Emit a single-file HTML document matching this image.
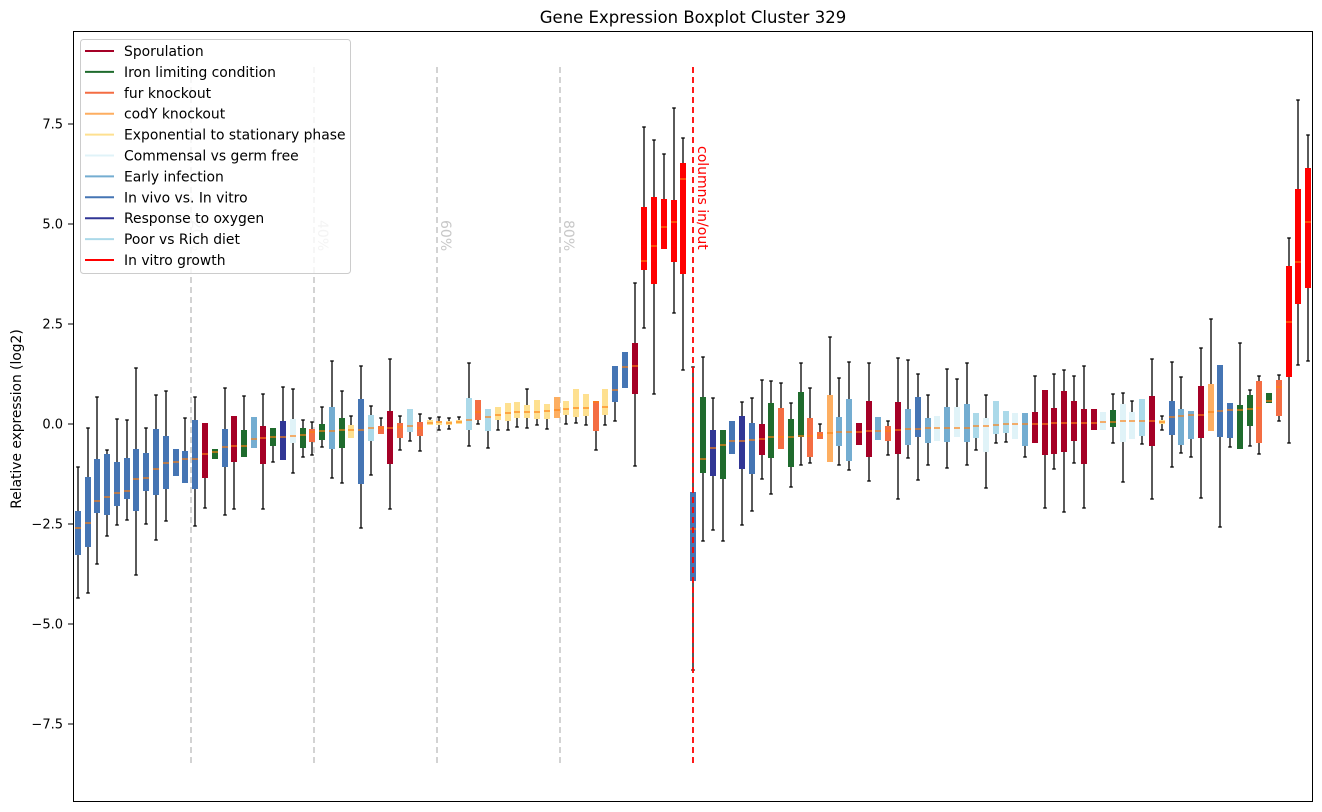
<!DOCTYPE html>
<html><head><meta charset="utf-8"><style>
html,body{margin:0;padding:0;background:#fff;}
svg{display:block;font-family:"DejaVu Sans","Liberation Sans",sans-serif;}
</style></head><body>
<svg id="s" width="1322" height="812" viewBox="0 0 1322 812" xmlns="http://www.w3.org/2000/svg">
<rect width="1322" height="812" fill="#fff"/>
<text x="693" y="23" font-size="16.5" text-anchor="middle">Gene Expression Boxplot Cluster 329</text>
<g id="grid" stroke="#c8c8c8" stroke-width="1.6" stroke-dasharray="6,4" fill="none">
<line x1="191" y1="67" x2="191" y2="767"/><line x1="314" y1="67" x2="314" y2="767"/>
<line x1="437" y1="67" x2="437" y2="767"/><line x1="560" y1="67" x2="560" y2="767"/>
</g>
<g fill="#c8c8c8" font-size="14">
<text transform="translate(192,220) rotate(90)">20%</text>
<text transform="translate(318,220) rotate(90)">40%</text>
<text transform="translate(441,220) rotate(90)">60%</text>
<text transform="translate(564,220) rotate(90)">80%</text>
</g>
<g id="boxes"></g>
<line x1="693" y1="67" x2="693" y2="767" stroke="#ff0000" stroke-width="1.8" stroke-dasharray="6,4"/>
<text transform="translate(698,146) rotate(90)" fill="#ff0000" font-size="14">columns in/out</text>
<rect x="73.5" y="31.5" width="1239" height="770" fill="none" stroke="#000" stroke-width="1"/>
<g font-size="13" text-anchor="end">
<line x1="68" y1="124" x2="73" y2="124" stroke="#000"/><text x="63" y="128.5">7.5</text>
<line x1="68" y1="224" x2="73" y2="224" stroke="#000"/><text x="63" y="228.5">5.0</text>
<line x1="68" y1="324" x2="73" y2="324" stroke="#000"/><text x="63" y="328.5">2.5</text>
<line x1="68" y1="424" x2="73" y2="424" stroke="#000"/><text x="63" y="428.5">0.0</text>
<line x1="68" y1="524" x2="73" y2="524" stroke="#000"/><text x="63" y="528.5">−2.5</text>
<line x1="68" y1="624" x2="73" y2="624" stroke="#000"/><text x="63" y="628.5">−5.0</text>
<line x1="68" y1="724" x2="73" y2="724" stroke="#000"/><text x="63" y="728.5">−7.5</text>
</g>
<text transform="translate(21,419) rotate(-90)" font-size="13.8" text-anchor="middle">Relative expression (log2)</text>
<g id="legend">
<rect x="80.5" y="39.5" width="270" height="234" rx="3" fill="#fff" fill-opacity="0.8" stroke="#ccc"/>
</g>
</svg>
<script>
var C={S:"#a50026",I:"#1f6b2d",F:"#f46d43",C:"#fdae61",E:"#fee090",G:"#e0f3f8",A:"#74add1",V:"#4575b4",O:"#313695",P:"#abd9e9",R:"#ff0000"};
var D=[
[78,467,511,528,555,598,"V"],[88,428,477,523,547,593,"V"],[97,397,459,501,513,564,"V"],[107,450,454,497,515,536,"V"],
[117,419,462,493,506,525,"V"],[127,420,458,491,499,520,"V"],[136,368,449,479,511,575,"V"],[146,428,453,478,491,524,"V"],
[156,395,429,469,495,540,"V"],[166,391,436,463,489,521,"V"],[176,449,449,462,476,476,"V"],[185,418,451,459,483,483,"V"],
[195,397,420,459,489,526,"V"],[205,423,423,454,478,508,"S"],[215,449,449,452,459,459,"I"],[225,388,429,447,467,515,"V"],
[234,416,416,446,462,509,"S"],[244,396,430,446,457,457,"I"],[254,417,417,439,448,448,"A"],[263,394,426,438,464,509,"S"],
[273,428,428,437,446,462,"I"],[283,387,421,437,460,460,"O"],[293,389,419,436,443,473,"G"],[303,420,428,435,448,457,"I"],
[312,422,429,432,442,455,"F"],[322,407,424,431,440,447,"I"],[332,361,407,431,449,478,"A"],[342,391,418,430,448,483,"I"],
[351,416,425,430,438,438,"E"],[361,366,399,430,484,528,"V"],[371,406,415,428,441,475,"P"],[381,418,426,428,434,434,"F"],
[390,359,411,428,464,509,"S"],[400,416,423,427,438,450,"F"],[410,409,409,426,432,441,"P"],[420,414,422,428,436,451,"F"],
[430,418,420,423,425,425,"E"],[439,417,421,422,425,430,"E"],[449,418,421,423,425,429,"E"],[459,417,420,422,424,424,"E"],
[469,363,398,420,430,446,"P"],[478,400,400,412,420,424,"F"],[488,409,409,417,431,448,"P"],[498,407,407,415,420,430,"E"],
[508,403,403,413,421,430,"E"],[517,402,402,412,418,427,"E"],[527,389,405,412,418,428,"E"],[537,400,400,412,419,425,"E"],
[547,404,404,411,419,429,"E"],[557,397,397,410,418,418,"C"],[566,401,401,409,415,424,"E"],[576,389,389,408,417,423,"E"],
[586,394,394,408,416,425,"E"],[596,401,401,402,431,450,"F"],[605,389,389,407,415,425,"E"],[615,366,366,390,402,421,"V"],
[625,352,352,367,388,388,"V"],[635,283,343,366,394,466,"S"],[644,127,207,261,270,328,"R"],[654,140,197,246,284,394,"R"],
[664,154,199,227,249,249,"R"],[674,108,200,222,262,313,"R"],[683,138,163,179,274,370,"R"],
[693,367,492,529,581,670,"V"],[703,357,397,459,473,541,"I"],[713,398,430,448,476,530,"O"],[723,430,430,445,479,541,"I"],
[732,421,421,441,454,454,"V"],[742,402,416,441,469,525,"O"],[752,398,423,440,474,511,"V"],[762,380,424,439,455,479,"S"],
[771,381,403,437,458,494,"I"],[781,383,408,437,449,449,"F"],[791,403,419,437,467,487,"I"],[801,363,392,436,437,465,"I"],
[810,388,418,436,457,463,"F"],[820,424,432,435,439,439,"F"],[830,337,395,433,462,462,"C"],[839,378,417,432,446,465,"A"],
[849,362,399,432,461,470,"A"],[859,423,423,432,445,445,"S"],[869,363,401,431,457,481,"S"],[878,417,417,431,440,440,"A"],
[888,421,426,431,441,455,"F"],[898,358,402,430,454,499,"S"],[908,360,409,429,445,458,"A"],[918,374,397,429,437,480,"V"],
[928,395,418,428,443,465,"A"],[937,416,416,428,441,441,"G"],[947,369,407,428,442,468,"A"],[957,379,407,428,437,437,"G"],
[967,363,404,428,442,465,"A"],[976,413,413,426,438,450,"P"],[986,395,418,426,452,488,"G"],[996,401,401,425,434,443,"P"],
[1006,411,411,424,433,442,"P"],[1015,413,413,424,439,439,"G"],[1025,413,413,424,446,457,"A"],[1035,376,412,424,443,443,"S"],
[1045,390,390,424,455,508,"S"],[1054,374,408,423,454,469,"S"],[1064,370,391,423,452,512,"S"],[1074,376,401,423,441,463,"S"],
[1084,366,409,423,464,508,"S"],[1094,409,409,423,430,430,"S"],[1103,412,412,422,430,430,"G"],[1113,394,410,422,427,443,"I"],
[1123,393,404,421,442,482,"G"],[1132,401,412,421,439,439,"G"],[1142,399,399,421,436,444,"P"],[1152,359,396,421,446,499,"S"],
[1162,416,420,422,424,430,"E"],[1172,362,401,417,435,467,"V"],[1181,377,409,416,445,453,"A"],[1191,411,411,415,439,457,"A"],
[1201,348,386,415,438,498,"S"],[1211,319,384,412,431,431,"C"],[1220,365,365,411,437,527,"V"],[1230,403,403,410,438,447,"V"],
[1240,343,405,410,449,449,"I"],[1250,390,395,409,426,446,"I"],[1259,376,381,408,443,454,"F"],[1269,393,393,401,403,403,"I"],
[1279,375,380,387,416,421,"F"],[1289,238,266,322,377,443,"R"],[1298,100,189,262,304,365,"R"],[1308,135,168,222,288,361,"R"]
];
var ns="http://www.w3.org/2000/svg",g=document.getElementById("boxes");
function el(t,a){var e=document.createElementNS(ns,t);for(var k in a)e.setAttribute(k,a[k]);g.appendChild(e);return e;}
D.forEach(function(d){var x=d[0],c=C[d[6]];
if(d[1]<d[2]){el("line",{x1:x,y1:d[1],x2:x,y2:d[2],stroke:"#000","stroke-width":1.3});el("line",{x1:x-1.8,y1:d[1],x2:x+1.8,y2:d[1],stroke:"#000","stroke-width":1.3});}
if(d[5]>d[4]){el("line",{x1:x,y1:d[4],x2:x,y2:d[5],stroke:"#000","stroke-width":1.3});el("line",{x1:x-1.8,y1:d[5],x2:x+1.8,y2:d[5],stroke:"#000","stroke-width":1.3});}
el("rect",{x:x-3,y:d[2],width:6,height:Math.max(d[4]-d[2],2),fill:c});
el("line",{x1:x-3,y1:d[3],x2:x+3,y2:d[3],stroke:"#ff7f0e","stroke-width":1.2});
});
var L=[["Sporulation","S"],["Iron limiting condition","I"],["fur knockout","F"],["codY knockout","C"],["Exponential to stationary phase","E"],["Commensal vs germ free","G"],["Early infection","A"],["In vivo vs. In vitro","V"],["Response to oxygen","O"],["Poor vs Rich diet","P"],["In vitro growth","R"]];
var lg=document.getElementById("legend");
L.forEach(function(l,i){var y=51+i*20.9;
var a=document.createElementNS(ns,"line");a.setAttribute("x1",85);a.setAttribute("x2",114);a.setAttribute("y1",y);a.setAttribute("y2",y);a.setAttribute("stroke",C[l[1]]);a.setAttribute("stroke-width",2);lg.appendChild(a);
var t=document.createElementNS(ns,"text");t.setAttribute("x",124);t.setAttribute("y",y+5);t.setAttribute("font-size",13.9);t.textContent=l[0];lg.appendChild(t);});
</script>
</body></html>
